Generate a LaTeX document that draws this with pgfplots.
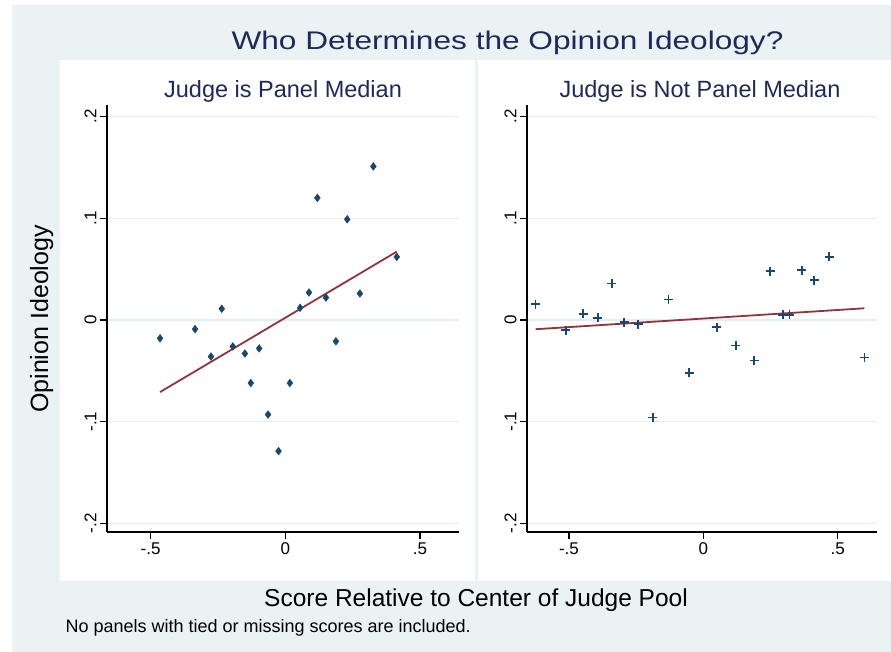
\documentclass[border=0pt]{standalone}
\usepackage{pgfplots}
\pgfplotsset{compat=1.18}
\usepackage{pgfplotstable}
\usepackage{fontspec}
\setmainfont{Liberation Sans}
\definecolor{bgc}{HTML}{EAF2F3}
\definecolor{gridc}{HTML}{E4EEF1}
\definecolor{mk}{HTML}{1A476F}
\definecolor{fitc}{HTML}{90353B}
\definecolor{ttl}{HTML}{1F2A5A}

\pgfplotstableread{
x y
-0.465 -0.018
-0.335 -0.009
-0.236 0.011
-0.276 -0.036
-0.195 -0.026
-0.150 -0.033
-0.097 -0.028
-0.128 -0.062
-0.064 -0.093
-0.025 -0.129
0.017 -0.062
0.055 0.012
0.088 0.027
0.151 0.022
0.119 0.120
0.230 0.099
0.188 -0.021
0.277 0.026
0.327 0.151
0.414 0.062
}\leftdata

\pgfplotstableread{
x y
-0.624 0.0155
-0.512 -0.010
-0.447 0.006
-0.393 0.002
-0.341 0.036
-0.294 -0.002
-0.242 -0.004
-0.188 -0.096
-0.130 0.020
-0.053 -0.052
0.050 -0.007
0.121 -0.025
0.189 -0.040
0.248 0.048
0.295 0.005
0.320 0.005
0.366 0.049
0.412 0.039
0.468 0.062
0.599 -0.037
}\rightdata

\pgfplotsset{
  panel/.style={
    anchor=south west,
    scale only axis,
    height=427pt,
    ymin=-0.2085, ymax=0.2114,
    axis x line*=bottom,
    axis y line*=left,
    axis line style={black, line width=1.4pt},
    tick style={black, line width=1.2pt},
    major tick length=7pt,
    tick align=outside,
    ymajorgrids,
    grid style={gridc, line width=1.2pt},
    ytick={-0.2,-0.1,0,0.1,0.2},
    yticklabels={-.2,-.1,0,.1,.2},
    xtick={-0.5,0,0.5},
    xticklabels={-.5,0,.5},
    yticklabel style={rotate=90, anchor=south, font=\fontsize{17}{20}\selectfont},
    xticklabel style={font=\fontsize{17}{20}\selectfont},
    clip=false,
  }
}

\begin{document}
\begin{tikzpicture}[x=1pt,y=1pt]
\useasboundingbox (0,0) rectangle (891,652);
\fill[bgc] (12,0) rectangle (891,647);
\fill[white] (60,71) rectangle (475,592);
\fill[white] (478,71) rectangle (891,592);

\node[ttl, anchor=base, font=\fontsize{25.5}{30}\selectfont] at (507.5,602) {\scalebox{1.24}[1]{Who Determines the Opinion Ideology?}};
\node[ttl, anchor=base, font=\fontsize{23.5}{28}\selectfont] at (283,554) {Judge is Panel Median};
\node[ttl, anchor=base, font=\fontsize{23.5}{28}\selectfont] at (700,554) {Judge is Not Panel Median};
\node[black, anchor=base, rotate=90, font=\fontsize{25}{30}\selectfont] at (48,333) {Opinion Ideology};
\node[black, anchor=base, font=\fontsize{24.5}{30}\selectfont] at (476,45) {Score Relative to Center of Judge Pool};
\node[black, anchor=base west, font=\fontsize{18}{22}\selectfont] at (62,19.5) {No panels with tied or missing scores are included.};

\begin{axis}[panel, at={(107pt,120pt)}, width=352pt, xmin=-0.662, xmax=0.645]
\addplot[only marks, mark=diamond*, mark size=3.9pt, mk] table[x=x,y=y] {\leftdata};
\addplot[fitc, line width=1.8pt] coordinates {(-0.465,-0.0709) (0.414,0.0672)};
\end{axis}

\begin{axis}[panel, at={(527pt,120pt)}, width=350pt, xmin=-0.656, xmax=0.646]
\addplot[only marks, mark=+, mark size=4.5pt, mk, mark options={line width=1.7pt}] table[x=x,y=y] {\rightdata};
\addplot[fitc, line width=1.8pt] coordinates {(-0.624,-0.0091) (0.599,0.0115)};
\end{axis}
\end{tikzpicture}
\end{document}
